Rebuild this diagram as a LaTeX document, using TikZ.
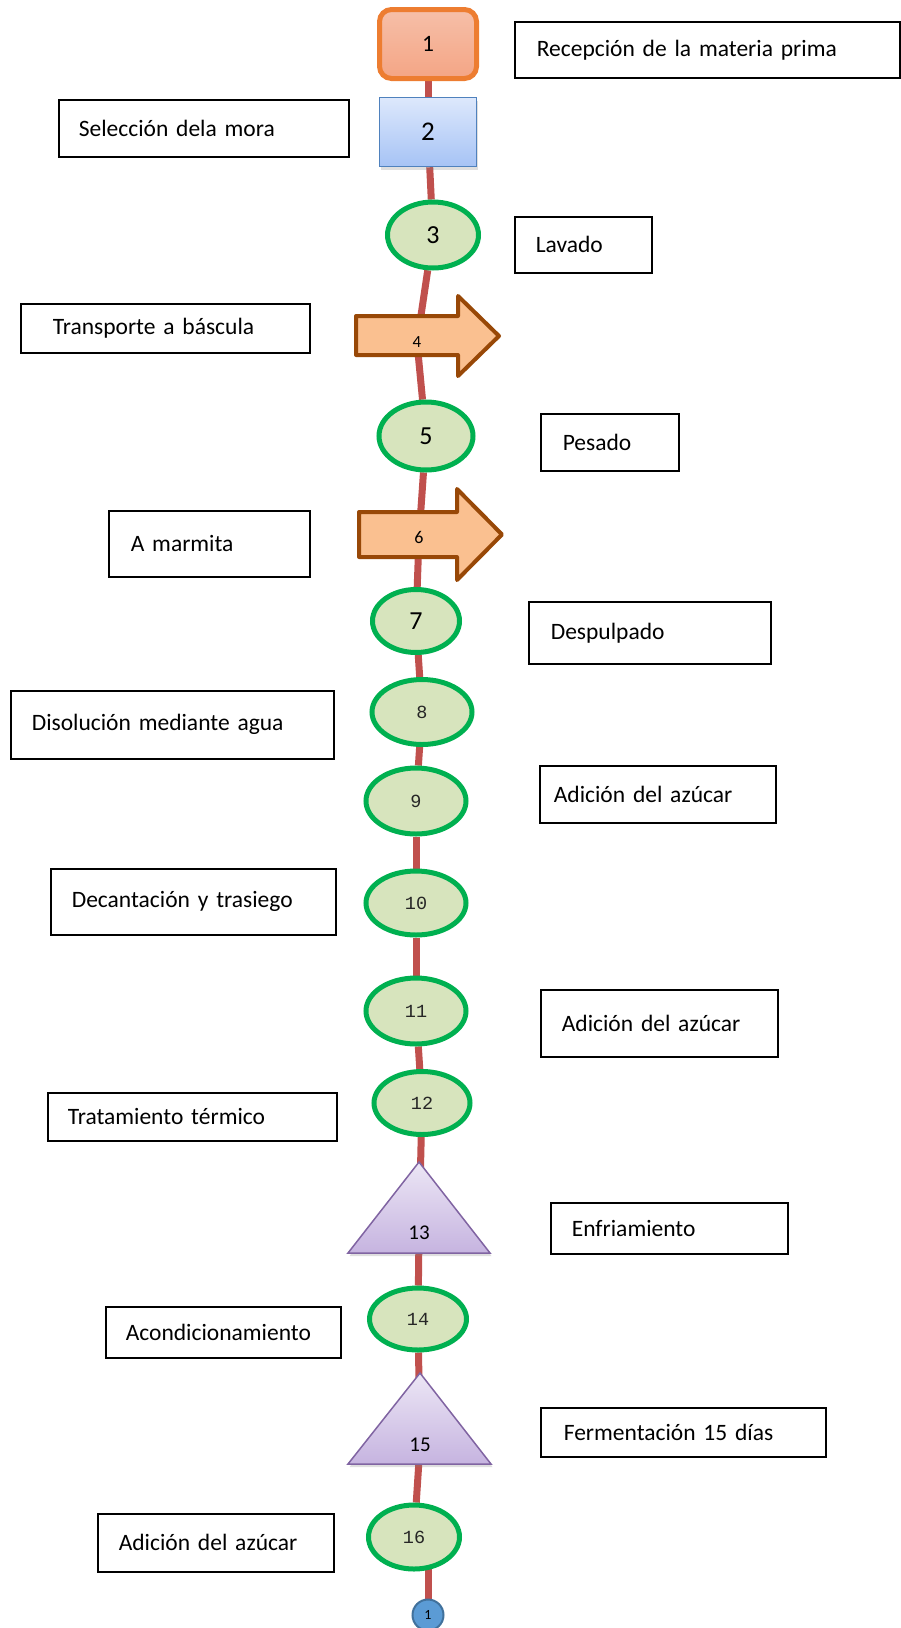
\documentclass[tikz,border=0pt]{standalone}
\usepackage{fontspec}
\setmainfont{Carlito}
\newfontfamily\monofont{Liberation Mono}
\usetikzlibrary{shapes.geometric,shadows}
\pgfdeclarelayer{bg}
\pgfsetlayers{bg,main}

\definecolor{connred}{HTML}{C0504D}
\definecolor{ovalgreen}{HTML}{00B050}
\definecolor{ovalfill}{HTML}{D7E4BD}
\definecolor{arrowfill}{HTML}{FAC090}
\definecolor{arrowline}{HTML}{984807}
\definecolor{startline}{HTML}{ED7D31}
\definecolor{starttop}{HTML}{F6BFA8}
\definecolor{startbot}{HTML}{F4A585}
\definecolor{inspline}{HTML}{4F81BD}
\definecolor{insptop}{HTML}{DDE8FC}
\definecolor{inspbot}{HTML}{A6C3F5}
\definecolor{triline}{HTML}{8064A2}
\definecolor{tritop}{HTML}{ECE6F5}
\definecolor{tribot}{HTML}{C6B4E0}
\definecolor{endfill}{HTML}{5B9BD5}
\definecolor{endline}{HTML}{41719C}
\definecolor{numgray}{HTML}{262626}

% text box beside the flow: name, x, y, width, height, left padding, text
\newcommand\labelnode[7]{%
  \pgfmathsetmacro\lbtw{#4-2*#6}%
  \node[labelbox, anchor=north west, minimum width=#4pt, minimum height=#5pt,
        inner xsep=#6pt, text width=\lbtw pt] (#1) at (#2,#3) {#7};}

\begin{document}
\begin{tikzpicture}[x=1pt,y=-1pt,
  labelbox/.style={draw=black, line width=1.6pt, align=left, inner ysep=0pt,
    font=\fontsize{23.5}{28}\selectfont},
  oval/.style={ellipse, draw=ovalgreen, line width=5pt, fill=ovalfill, inner sep=0pt},
  monodigits/.style={font=\monofont\fontsize{18.5}{20}\selectfont, text=numgray},
  bigdigits/.style={font=\fontsize{26}{26}\selectfont},
  transport/.style={draw=arrowline, fill=arrowfill, line width=4pt, line join=round},
  storage/.style={draw=triline, line width=1.5pt, top color=tritop, bottom color=tribot,
    drop shadow={opacity=0.25, shadow xshift=1.5pt, shadow yshift=-3pt}},
  conn/.style={draw=connred, line width=7pt}]
\useasboundingbox (0,0) rectangle (901,1628);

% process symbols
\node[rectangle, rounded corners=12pt, draw=startline, line width=5pt,
      top color=starttop, bottom color=startbot,
      minimum width=97pt, minimum height=69pt, inner sep=0pt,
      font=\fontsize{23.5}{24}\selectfont] (n1) at (428,44) {1};
\node[rectangle, draw=inspline, line width=1.5pt, top color=insptop, bottom color=inspbot,
      minimum width=97pt, minimum height=69pt, inner sep=0pt,
      drop shadow={opacity=0.25, shadow xshift=1.5pt, shadow yshift=-3pt},
      font=\fontsize{27}{27}\selectfont] (n2) at (428,132) {2};
\node[oval, minimum width=91pt, minimum height=66pt, bigdigits] (n3) at (433,235) {3};

\path[transport] (356,316) -- (458,316) -- (458,296) -- (499,336) -- (458,376)
  -- (458,355) -- (356,355) -- cycle;
\node[font=\fontsize{17}{17}\selectfont] (n4) at (417,342) {4};

\node[oval, minimum width=94pt, minimum height=68pt, bigdigits] (n5) at (426,436) {5};

\path[transport] (359,512) -- (457,512) -- (457,489) -- (502,534.5) -- (457,580)
  -- (457,557) -- (359,557) -- cycle;
\node[font=\fontsize{18}{18}\selectfont] (n6) at (419,537) {6};

\node[oval, minimum width=87pt, minimum height=63pt, bigdigits] (n7) at (416,621) {7};
\node[oval, minimum width=100pt, minimum height=65pt, monodigits] (n8) at (422,712) {8};
\node[oval, minimum width=100pt, minimum height=66pt, monodigits] (n9) at (416,801) {9};
\node[oval, minimum width=100pt, minimum height=64pt, monodigits] (n10) at (416,903) {10};
\node[oval, minimum width=100pt, minimum height=66pt, monodigits] (n11) at (416,1011) {11};
\node[oval, minimum width=96pt, minimum height=63pt, monodigits] (n12) at (422,1103) {12};

\path[storage] (419,1162) -- (490,1253) -- (348,1253) -- cycle;
\node[font=\fontsize{21}{21}\selectfont] (n13) at (419,1233) {13};

\node[oval, minimum width=97pt, minimum height=62pt, monodigits] (n14) at (418,1319) {14};

\path[storage] (420,1373) -- (491,1464) -- (348,1464) -- cycle;
\node[font=\fontsize{21}{21}\selectfont] (n15) at (420,1445) {15};

\node[oval, minimum width=91pt, minimum height=64pt, monodigits] (n16) at (414,1537) {16};

\node[circle, draw=endline, fill=endfill, line width=2pt, minimum size=31pt, inner sep=0pt,
      font=\fontsize{14}{14}\selectfont] (nend) at (428,1615) {1};

% descriptions
\labelnode{b1}{514}{21}{385}{56}{22}{Recepción de la materia prima}
\labelnode{b2}{58}{99}{290}{57}{20}{Selección dela mora}
\labelnode{b3}{514}{216}{137}{56}{21}{Lavado}
\labelnode{b4}{20}{303}{289}{49}{32}{Transporte a báscula}
\labelnode{b5}{540}{413}{138}{57}{22}{Pesado}
\labelnode{b6}{108}{510}{201}{66}{22}{A marmita}
\labelnode{b7}{528}{601}{242}{62}{22}{Despulpado}
\labelnode{b8}{10}{690}{323}{68}{21}{Disolución mediante agua}
\labelnode{b9}{539}{765}{236}{57}{14}{Adición del azúcar}
\labelnode{b10}{50}{868}{285}{66}{21}{Decantación y trasiego}
\labelnode{b11}{540}{989}{237}{67}{21}{Adición del azúcar}
\labelnode{b12}{47}{1092}{289}{48}{20}{Tratamiento térmico}
\labelnode{b13}{550}{1202}{237}{51}{21}{Enfriamiento}
\labelnode{b14}{105}{1306}{235}{51}{20}{Acondicionamiento}
\labelnode{b15}{540}{1407}{285}{49}{23}{Fermentación 15 días}
\labelnode{b16}{97}{1513}{236}{58}{21}{Adición del azúcar}

% flow line behind the symbols
\begin{pgfonlayer}{bg}
\draw[conn] (n1) -- (n2);
\draw[conn] (n2) -- (n3);
\draw[conn] (n3) -- (n4);
\draw[conn] (n4) -- (n5);
\draw[conn] (n5) -- (n6);
\draw[conn] (n6) -- (n7);
\draw[conn] (n7) -- (n8);
\draw[conn] (n8) -- (n9);
\draw[conn] (n9) -- (n10);
\draw[conn] (n10) -- (n11);
\draw[conn] (n11) -- (n12);
\draw[conn] (n12) -- (n13);
\draw[conn] (n13) -- (n14);
\draw[conn] (n14) -- (n15);
\draw[conn] (n15) -- (n16);
\draw[conn] (n16.center -| nend) -- (nend);
\end{pgfonlayer}
\end{tikzpicture}
\end{document}
